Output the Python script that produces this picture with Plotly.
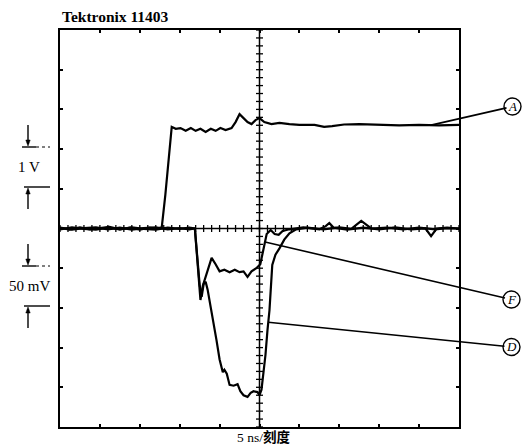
import numpy as np
import plotly.graph_objects as go

# Scope settings
NS_PER_DIV = 5.0          # horizontal: 5 ns per division
V_PER_DIV_A = 1.0         # channel A: 1 V per division
MV_PER_DIV_FD = 50.0      # channels F and D: 50 mV per division

# Channel A (time in ns, amplitude in V)
a_t = [0, 1.2, 2.5, 3.7, 5.0, 6.2, 7.5, 8.8, 10.0, 11.2, 12.2, 12.75, 13.2, 13.6,
       14.0, 14.5, 15.1, 15.75, 16.4, 17.0, 17.6, 18.25, 18.9, 19.5, 20.1, 20.75,
       21.5, 22.0, 22.5, 23.0, 23.5, 24.0, 24.5, 25.0, 25.6, 26.5, 27.5, 28.75,
       30.0, 31.9, 33.1, 34.1, 35.6, 37.5, 40.0, 42.5, 45.0, 47.5, 50.0]
a_v = [0.02, -0.03, 0.03, -0.02, 0.01, 0.04, -0.02, 0.02, -0.03, 0.02, 0.0, 0.03, 0.85, 1.75,
       2.56, 2.51, 2.53, 2.46, 2.53, 2.46, 2.51, 2.43, 2.51, 2.46, 2.53, 2.48,
       2.53, 2.68, 2.88, 2.78, 2.68, 2.63, 2.73, 2.78, 2.68, 2.63, 2.66, 2.63,
       2.61, 2.61, 2.56, 2.58, 2.62, 2.63, 2.61, 2.60, 2.61, 2.60, 2.61]

# Channel F (time in ns, amplitude in mV)
f_t = [0, 1.5, 3, 4.5, 6, 7.5, 9, 10.5, 12, 13.5, 15, 16.2, 16.9,
       17.25, 17.6, 17.9, 18.25, 19.0, 19.5, 20.0, 20.6, 21.25, 21.9, 22.5, 23.0,
       23.5, 24.0, 24.6, 25.1, 25.5, 25.9, 26.4, 26.9, 27.4, 27.9, 28.75,
       30.5, 32.5, 33.3, 33.75, 34.3, 36, 38, 40, 42, 44, 45.8, 46.5, 47.2, 48.5, 50]
f_mv = [1, -1.5, 0.5, 1.5, -1, 1, -1.5, 0.5, 1.5, -1, 0.5, -1, 0,
        -42, -90, -72, -60, -37, -45, -54, -52, -55, -52, -55, -54,
        -61, -54, -50, -45, -27, -7, -2, -7, -8, -3, -1,
        1.5, -1, 3, 7, 1, -1.5, 1, -1, 1.5, -1, 0, -9.5, 0, 1, 0]

# Channel D (time in ns, amplitude in mV)
d_t = [0, 1.5, 3, 4.5, 6, 7.5, 9, 10.5, 12, 13.5, 15, 16.2, 16.9,
       17.25, 17.5, 17.75, 18.0, 18.25, 18.5, 18.9, 19.25, 19.6, 20.0,
       20.4, 20.6, 20.9, 21.25, 21.75, 22.25, 22.6, 23.0, 23.5, 23.9,
       24.25, 24.75, 25.0, 25.25, 25.5, 25.75, 26.0, 26.25, 26.6, 27.0,
       27.5, 28.1, 28.75, 29.6,
       31, 33, 35, 36.5, 37.75, 39, 41, 43, 45, 47, 48.5, 50]
d_mv = [-1, 1.5, -0.5, -1.5, 1, -1, 1.5, -0.5, -1.5, 1, -0.5, 1, 0,
        -42, -71, -86, -70, -67, -77, -100, -118, -140, -165,
        -181, -178, -183, -197, -198, -196, -205, -210, -212, -207,
        -205, -206, -210, -203, -184, -159, -128, -103, -46, -33,
        -25, -14, -6, -1,
        1, -1, 1.5, -0.5, 9.5, 0, 1, -1, 1, -1, 0.5, 0]

# Screen size in divisions
N_HDIV = 10
N_VDIV = 10
T_MAX = N_HDIV * NS_PER_DIV
T_CENTER = T_MAX / 2

# Page layout (pixels)
W, H = 524, 446
L, R, T, B = 60, 65, 30, 19
PW, PH = W - L - R, H - T - B

SERIF = "Liberation Serif, Noto Sans CJK SC, serif"


def px(x):
    """Pixel column -> paper x."""
    return (x - L) / PW


def py(y):
    """Pixel row -> paper y."""
    return (H - B - y) / PH


fig = go.Figure()

trace_style = dict(color="black", width=2.2)
fig.add_trace(go.Scatter(x=a_t, y=np.array(a_v) / V_PER_DIV_A, mode="lines",
                         line=trace_style, name="A"))
fig.add_trace(go.Scatter(x=f_t, y=np.array(f_mv) / MV_PER_DIV_FD, mode="lines",
                         line=trace_style, name="F"))
fig.add_trace(go.Scatter(x=d_t, y=np.array(d_mv) / MV_PER_DIV_FD, mode="lines",
                         line=trace_style, name="D"))

# Graticule centre lines with minor (1/5 division) ticks
fig.add_shape(type="line", x0=T_CENTER, x1=T_CENTER, y0=-N_VDIV / 2, y1=N_VDIV / 2,
              line=dict(color="black", width=1.5))
fig.add_shape(type="line", x0=0, x1=T_MAX, y0=0, y1=0,
              line=dict(color="black", width=1.5))
minor_t = np.arange(0, T_MAX + 1e-9, NS_PER_DIV / 5)
minor_v = np.arange(-N_VDIV / 2, N_VDIV / 2 + 1e-9, 0.2)
tick_marker = dict(size=5, color="black", line=dict(width=1.3, color="black"))
fig.add_trace(go.Scatter(x=minor_t, y=np.zeros_like(minor_t), mode="markers",
                         marker=dict(symbol="line-ns", **tick_marker), hoverinfo="skip"))
fig.add_trace(go.Scatter(x=np.full_like(minor_v, T_CENTER), y=minor_v, mode="markers",
                         marker=dict(symbol="line-ew", **tick_marker), hoverinfo="skip"))

# Callouts: circled trace letters with leader lines
callouts = [
    ("A", 46.5, np.interp(46.5, a_t, a_v) / V_PER_DIV_A, (512.5, 106.5)),
    ("F", 25.7, np.interp(25.7, f_t, f_mv) / MV_PER_DIV_FD, (511.5, 299.5)),
    ("D", 26.1, np.interp(26.1, d_t, d_mv) / MV_PER_DIV_FD, (511.5, 347.0)),
]
RC = 8.5
for letter, tx, ty, (cx, cy) in callouts:
    hx = L + tx / T_MAX * PW
    hy = T + (N_VDIV / 2 - ty) / N_VDIV * PH
    fig.add_annotation(x=tx, y=ty, xref="x", yref="y", ax=cx - hx, ay=cy - hy,
                       text=f"<i>{letter}</i>", showarrow=True, arrowhead=0,
                       arrowwidth=1.6, arrowcolor="black", standoff=0,
                       font=dict(family=SERIF, size=13, color="black"))
    fig.add_shape(type="circle", xref="paper", yref="paper",
                  x0=px(cx - RC), x1=px(cx + RC), y0=py(cy + RC), y1=py(cy - RC),
                  line=dict(color="black", width=1.4), fillcolor="rgba(0,0,0,0)")


# Scale brackets at the left
def arrow_head(x, y_tip, direction):
    """Small filled arrowhead; direction +1 points down, -1 points up."""
    y_base = y_tip - direction * 6
    return (f"M {px(x)},{py(y_tip)} L {px(x - 2.2)},{py(y_base)} "
            f"L {px(x + 2.2)},{py(y_base)} Z")


def bracket(y_top, y_bot, label):
    ax_x = 28
    solid = dict(color="black", width=1.4)
    # top bar with arrow coming down onto it
    fig.add_shape(type="line", xref="paper", yref="paper", x0=px(22), x1=px(36),
                  y0=py(y_top), y1=py(y_top), line=solid)
    fig.add_shape(type="line", xref="paper", yref="paper", x0=px(36), x1=px(50),
                  y0=py(y_top), y1=py(y_top), line=dict(color="black", width=1, dash="dot"))
    fig.add_shape(type="line", xref="paper", yref="paper", x0=px(ax_x), x1=px(ax_x),
                  y0=py(y_top - 22), y1=py(y_top - 3), line=solid)
    fig.add_shape(type="path", xref="paper", yref="paper", path=arrow_head(ax_x, y_top - 1, 1),
                  fillcolor="black", line=dict(color="black", width=0.5))
    # bottom bar with arrow coming up onto it
    fig.add_shape(type="line", xref="paper", yref="paper", x0=px(24), x1=px(50),
                  y0=py(y_bot), y1=py(y_bot), line=solid)
    fig.add_shape(type="line", xref="paper", yref="paper", x0=px(ax_x), x1=px(ax_x),
                  y0=py(y_bot + 22), y1=py(y_bot + 3), line=solid)
    fig.add_shape(type="path", xref="paper", yref="paper", path=arrow_head(ax_x, y_bot + 1, -1),
                  fillcolor="black", line=dict(color="black", width=0.5))
    fig.add_annotation(x=px(29), y=py((y_top + y_bot) / 2), xref="paper", yref="paper",
                       text=label, showarrow=False, xanchor="center", yanchor="middle",
                       font=dict(family=SERIF, size=15, color="black"))


bracket(147, 187, "1 V")
bracket(266, 306, "50 mV")

# Title and time-base label
fig.add_annotation(x=px(60), y=py(16), xref="paper", yref="paper", text="<b>Tektronix 11403</b>",
                   showarrow=False, xanchor="left", yanchor="middle",
                   font=dict(family=SERIF, size=15.5, color="black"))
fig.add_annotation(x=px(263), y=py(437), xref="paper", yref="paper", text="5 ns/<b>刻度</b>",
                   showarrow=False, xanchor="center", yanchor="middle",
                   font=dict(family=SERIF, size=13.5, color="black"))

axis_style = dict(showgrid=False, zeroline=False, showline=True, linecolor="black",
                  linewidth=2, mirror="ticks", ticks="inside", ticklen=3, tickwidth=1.5,
                  tickcolor="black", showticklabels=False, fixedrange=True)
fig.update_layout(
    width=W, height=H,
    margin=dict(l=L, r=R, t=T, b=B),
    paper_bgcolor="white", plot_bgcolor="white",
    showlegend=False,
    xaxis=dict(range=[0, T_MAX], dtick=NS_PER_DIV, tick0=0, **axis_style),
    yaxis=dict(range=[-N_VDIV / 2, N_VDIV / 2], dtick=1, tick0=0, **axis_style),
)

fig.write_html("out.html")
